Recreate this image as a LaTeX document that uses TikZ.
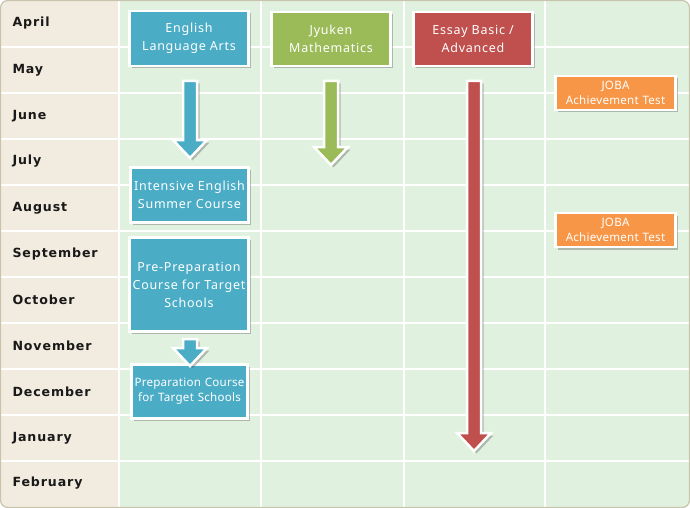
\documentclass[tikz,border=0pt]{standalone}
\usepackage{fontspec}
\setmainfont{Noto Sans}
\newfontfamily\monthfont[LetterSpace=7]{DejaVu Sans}
\newfontfamily\boxfont[LetterSpace=6]{Noto Sans}
\newfontfamily\smallboxfont[LetterSpace=2]{Noto Sans}
\usetikzlibrary{shadows,calc}
\definecolor{outline}{HTML}{C9C4AE}
\definecolor{beige}{HTML}{F2EBDF}
\definecolor{mint}{HTML}{E0F2DF}
\definecolor{cblue}{HTML}{4BACC6}
\definecolor{cgreen}{HTML}{9BBB59}
\definecolor{cred}{HTML}{C0504D}
\definecolor{corange}{HTML}{F79646}
\tikzset{
  box/.style={draw=white, line width=2.5pt, text=white, align=center,
    font=\boxfont\fontsize{12.5}{18}\selectfont, inner sep=1pt,
    drop shadow={opacity=0.35, shadow xshift=2.5pt, shadow yshift=-2.5pt, fill=black!70}},
  smallbox/.style={box, font=\smallboxfont\fontsize{11.6}{15}\selectfont},
  month/.style={anchor=west, font=\monthfont\bfseries\fontsize{12.6}{14}\selectfont, text=black!90},
  gridline/.style={white, line width=2pt},
  barrow/.style={draw=white, line width=2.5pt, line join=miter,
    drop shadow={opacity=0.35, shadow xshift=2.5pt, shadow yshift=-2.5pt, fill=black!70}}
}
% block arrow from coordinate #1 (top) down to #2 (tip), colour #3
\newcommand{\downarrowblk}[3]{%
  \path[barrow, fill=#3] let \p1=(#1), \p2=(#2) in
    (\x1-7pt,\y1) -- (\x1+7pt,\y1) -- (\x1+7pt,\y2+18pt) -- (\x1+17pt,\y2+18pt)
    -- (\x1,\y2) -- (\x1-17pt,\y2+18pt) -- (\x1-7pt,\y2+18pt) -- cycle;}
\begin{document}
\begin{tikzpicture}[x=1pt,y=-1pt]
\useasboundingbox (0,0) rectangle (690,508);
% background
\begin{scope}
\clip[rounded corners=7pt] (0.5,0.5) rectangle (689.5,507.5);
\fill[mint] (0,0) rectangle (690,508);
\fill[beige] (0,0) rectangle (119,508);
\foreach \y in {47,93,139,185,231,277,323,369,415,461}
  \draw[gridline] (0,\y) -- (690,\y);
\foreach \x in {119,261,404,545}
  \draw[gridline] (\x,0) -- (\x,508);
\end{scope}
\draw[outline, line width=1.2pt, rounded corners=7pt] (0.6,0.6) rectangle (689.4,507.4);
% months
\node[month] (m1) at (9,23) {April};
\node[month] (m2) at (9,70) {May};
\node[month] (m3) at (9,116) {June};
\node[month] (m4) at (9,161) {July};
\node[month] (m5) at (9,208) {August};
\node[month] (m6) at (9,254) {September};
\node[month] (m7) at (9,300) {October};
\node[month] (m8) at (9,346) {November};
\node[month] (m9) at (9,392) {December};
\node[month] (m10) at (9,438) {January};
\node[month] (m11) at (9,483) {February};
% boxes
\node[box, fill=cblue, minimum width=119pt, minimum height=55pt] (ela) at (189,38.5) {English\\Language Arts};
\node[box, fill=cgreen, minimum width=119pt, minimum height=54pt] (math) at (331,39) {Jyuken\\Mathematics};
\node[box, fill=cred, minimum width=119pt, minimum height=54pt] (essay) at (473,39) {Essay Basic /\\Advanced};
\node[box, fill=cblue, minimum width=118pt, minimum height=55pt] (ies) at (189.5,195) {Intensive English\\Summer Course};
\node[box, fill=cblue, minimum width=119pt, minimum height=94pt] (pre) at (189,284.5) {Pre-Preparation\\Course for Target\\Schools};
\node[smallbox, fill=cblue, minimum width=116pt, minimum height=54pt, text width=112pt, inner sep=0pt] (prep) at (189.5,391.5) {Preparation Course\\for Target Schools};
\node[smallbox, fill=corange, minimum width=120pt, minimum height=34pt, text width=116pt, inner sep=0pt] (joba1) at (615.5,93) {JOBA\\Achievement Test};
\node[smallbox, fill=corange, minimum width=120pt, minimum height=34pt, text width=116pt, inner sep=0pt] (joba2) at (615.5,230) {JOBA\\Achievement Test};
% arrows
\coordinate (a1s) at (190,81);
\coordinate (a1e) at (190,158);
\coordinate (a2s) at (331,81);
\coordinate (a2e) at (331,165);
\coordinate (a3s) at (474,81);
\coordinate (a3e) at (474,451);
\coordinate (a4s) at (190,339);
\coordinate (a4e) at (190,366);
\downarrowblk{a1s}{a1e}{cblue}
\downarrowblk{a2s}{a2e}{cgreen}
\downarrowblk{a3s}{a3e}{cred}
\downarrowblk{a4s}{a4e}{cblue}
\end{tikzpicture}
\end{document}
